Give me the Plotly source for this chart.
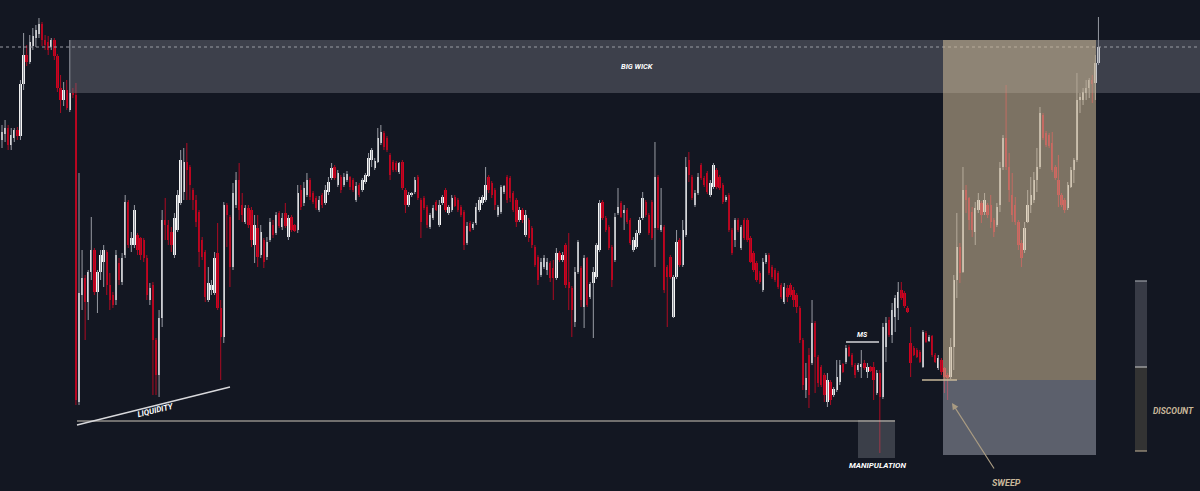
import plotly.graph_objects as go

# Candles (0 = top edge, 491 = bottom edge).
# price = 491 - level
open_lv = [
    140,134,128,145,138,130,136,84,55,62, 46,38,34,24,40,42,47,40,56,88,
    100,90,110,93,95,402,295,278,302,272, 250,292,272,262,252,285,295,300,263,282,
    255,202,245,245,235,238,240,258,300,285, 340,375,318,220,225,232,255,230,203,192,
    162,167,190,200,212,240,252,300,290,293, 253,308,337,205,217,267,205,180,205,222,
    208,210,245,228,255,240,257,240,225,233, 213,227,213,237,217,225,230,190,203,195,
    180,193,198,210,195,203,192,178,167,185, 177,185,180,177,180,200,185,190,182,176,
    160,168,162,143,133,138,155,162,163,172, 162,190,205,195,192,177,200,198,207,227,
    218,202,225,203,190,213,210,197,200,207, 212,243,223,228,223,210,203,200,177,183,
    190,215,212,192,177,178,193,200,220,210, 235,220,228,247,257,275,267,270,263,268,
    278,253,260,245,282,288,322,272,268,307, 258,297,283,277,250,202,218,227,247,260,
    213,203,213,210,220,250,247,233,218,202, 215,202,228,177,230,227,267,257,317,277,
    240,265,235,160,177,205,193,165,178,173, 195,187,170,177,185,200,195,230,240,220,
    248,220,220,238,253,263,273,290,262,255, 267,270,273,285,302,288,285,290,295,308,
    340,390,355,363,323,357,367,375,402,382, 395,390,382,364,362,347,355,365,370,367,
    363,372,367,367,393,373,397,347,320,335, 317,308,290,293,308,343,348,350,352,367,
    333,341,336,355,368,360,368,375,377,347, 280,247,272,190,198,212,232,210,203,212,
    205,205,220,225,205,167,138,167,195,205, 222,243,250,222,205,200,180,167,115,133,
    135,143,167,180,195,200,208,187,170,160, 100,100,93,88,80,83,63,
]
high_lv = [
    125,120,125,128,128,127,80,33,45,35, 28,25,18,22,35,36,38,38,54,75,
    82,80,40,88,83,173,250,275,270,217, 248,270,250,245,250,273,292,250,258,253,
    195,200,232,205,233,237,238,255,283,282, 338,310,210,198,220,227,213,190,150,148,
    143,165,188,195,210,237,250,267,280,252, 223,300,202,203,215,183,172,163,193,205,
    205,207,215,215,225,238,237,218,220,212, 211,213,203,215,215,224,185,185,182,173,
    178,191,196,196,193,185,177,163,165,170, 175,173,171,176,178,182,183,178,173,153,
    148,158,128,125,131,136,153,160,161,162, 160,188,192,192,177,175,198,196,205,213,
    205,200,200,195,188,205,195,195,198,205, 210,222,221,222,203,197,195,167,175,181,
    188,205,185,185,175,176,191,198,207,208, 210,218,226,245,255,258,255,258,261,260,
    248,251,252,243,233,286,267,240,266,255, 257,282,267,243,200,200,216,225,245,213,
    188,201,205,208,218,237,230,217,192,200, 213,200,142,175,188,225,265,255,275,230,
    238,220,157,152,175,190,173,163,176,171, 180,163,168,175,183,195,193,228,218,218,
    225,218,218,236,251,261,271,258,253,253, 265,268,271,283,283,285,283,287,293,306,
    338,363,348,300,321,355,365,373,373,380, 387,360,360,363,345,345,353,363,363,350,
    360,363,366,362,370,370,323,317,317,303, 295,282,282,291,306,327,346,348,350,330,
    331,335,335,353,355,358,367,373,338,275, 213,243,167,185,197,207,202,193,201,193,
    203,195,218,203,162,135,85,153,173,197, 220,240,222,190,177,172,148,107,113,131,
    133,132,165,155,193,198,182,167,158,73, 93,88,80,78,75,55,17,
]
low_lv = [
    148,142,150,150,142,140,140,90,66,64, 50,47,38,46,50,55,50,60,92,113,
    106,110,112,98,405,405,310,340,320,280, 295,313,280,287,295,310,308,305,285,285,
    258,248,252,248,255,260,262,300,305,395, 395,397,327,240,245,252,258,232,205,200,
    200,200,210,227,267,260,302,302,295,295, 310,380,343,247,287,270,208,220,222,224,
    228,247,263,267,258,268,260,242,238,235, 228,230,228,240,232,232,233,210,206,197,
    200,204,210,212,208,205,195,180,180,187, 193,187,182,190,192,202,197,192,184,177,
    167,170,163,145,150,152,180,172,172,174, 190,213,207,197,194,200,238,210,228,229,
    220,211,227,205,212,215,212,207,212,217, 250,245,232,230,225,212,205,202,193,198,
    210,217,214,194,203,202,212,227,222,223, 237,242,248,267,285,277,269,275,282,300,
    280,262,262,288,310,337,327,274,307,328, 307,299,338,279,252,220,232,250,287,262,
    215,218,230,224,245,252,249,235,220,217, 235,240,267,230,232,293,327,279,318,279,
    267,267,237,182,200,207,195,180,187,194, 197,189,189,190,204,202,232,255,247,232,
    250,240,242,263,272,282,284,292,264,275, 279,282,289,299,304,302,297,307,313,343,
    390,398,408,365,393,387,387,402,407,405, 397,392,385,373,364,357,367,378,372,378,
    370,378,372,400,395,453,399,362,337,343, 332,320,300,308,313,377,356,358,363,368,
    343,342,357,363,370,375,393,400,379,370, 298,283,273,213,230,237,245,213,223,215,
    218,228,237,227,212,170,170,202,222,225, 250,267,253,223,213,203,192,169,140,147,
    148,172,180,207,207,213,210,188,183,162, 113,105,100,98,103,100,65,
]
close_lv = [
    132,128,145,135,130,136,84,55,62,42, 36,30,24,40,45,50,40,56,88,100,
    90,108,93,95,400,293,278,302,272,250, 292,272,255,250,285,300,305,255,280,258,
    202,245,238,210,250,255,258,295,288,340, 375,318,220,225,240,245,218,195,160,162,
    170,185,200,222,252,257,297,283,285,258, 308,337,205,215,267,193,180,210,215,208,
    225,240,225,257,232,262,242,222,235,215, 226,218,226,218,230,231,193,207,188,180,
    197,202,208,200,205,190,182,168,178,173, 190,177,174,187,190,186,195,180,175,158,
    150,161,138,132,147,150,175,170,170,163, 188,205,195,193,180,198,222,208,225,215,
    208,210,205,197,210,207,198,206,210,215, 245,226,231,224,207,200,197,185,190,195,
    205,207,187,186,200,198,210,222,210,220, 215,238,245,265,280,262,258,262,278,278,
    253,260,255,285,288,310,272,242,300,258, 305,284,272,245,203,218,230,248,280,217,
    207,217,210,222,243,240,233,220,198,215, 233,238,177,228,225,290,277,277,277,242,
    265,230,167,175,198,193,177,178,185,192, 183,165,187,188,202,197,230,253,220,230,
    227,238,240,262,270,280,282,262,255,273, 277,280,287,297,287,297,295,300,307,340,
    385,378,395,323,357,383,385,395,380,400, 389,377,365,372,348,356,365,375,365,364,
    368,367,371,380,373,397,327,323,335,310, 298,292,298,306,312,363,355,357,362,332,
    342,337,355,362,358,372,377,378,347,280, 247,273,190,200,220,230,208,200,215,200,
    215,222,232,207,168,138,167,190,215,222, 245,258,228,205,195,180,167,113,138,145,
    146,170,178,195,205,210,185,170,160,100, 97,92,88,80,84,63,47,
]

# Annotation levels (same screen-level units)
BIG_WICK_BAR = 22          # candle whose upper wick forms the "BIG WICK" zone
SWEEP_LV = 380
DISCOUNT_BOTTOM_LV = 455
LIQ_LINE_LV = 421
MS_LV = 342
MANIP_TOP_LV, MANIP_BOTTOM_LV = 420, 458

TOP = 491
opens = [TOP - v for v in open_lv]
highs = [TOP - v for v in high_lv]
lows = [TOP - v for v in low_lv]
closes = [TOP - v for v in close_lv]
n = len(opens)
idx = list(range(n))

PITCH = 3.08                    # px per candle
X0 = -2 / PITCH
X1 = X0 + 1200 / PITCH
def xi(px):                     # pixel column -> candle axis
    return (px - 2) / PITCH
def pr(lv):                     # screen level -> price
    return TOP - lv

bull = [c >= o for o, c in zip(opens, closes)]
base = [min(o, c) for o, c in zip(opens, closes)]
height = [max(abs(c - o), 1.0) for o, c in zip(opens, closes)]
body_col = ["#f6f6f6" if b else "#d3001f" for b in bull]

def wicks(side):
    xs, ys = [], []
    for i in range(n):
        if bull[i] == side:
            xs += [i, i, None]
            ys += [min(lows[i], opens[i], closes[i]), max(highs[i], opens[i], closes[i]), None]
    return xs, ys

fig = go.Figure()
wx, wy = wicks(True)
fig.add_trace(go.Scatter(x=wx, y=wy, mode="lines", line=dict(color="#8d9099", width=1.1),
                         hoverinfo="skip"))
wx, wy = wicks(False)
fig.add_trace(go.Scatter(x=wx, y=wy, mode="lines", line=dict(color="#a00b22", width=1.1),
                         hoverinfo="skip"))
fig.add_trace(go.Bar(x=idx, y=height, base=base, width=0.76,
                     marker=dict(color=body_col, line=dict(width=0))))

shapes = []
bw_top = highs[BIG_WICK_BAR]
bw_bot = max(opens[BIG_WICK_BAR], closes[BIG_WICK_BAR])
# BIG WICK zone
shapes.append(dict(type="rect", xref="x", yref="y", x0=BIG_WICK_BAR, x1=X1 + 5,
                   y0=bw_bot, y1=bw_top, fillcolor="rgba(125,128,138,0.40)", line=dict(width=0)))
# last price dotted line
shapes.append(dict(type="line", xref="paper", yref="y", x0=0, x1=1, y0=closes[-1], y1=closes[-1],
                   line=dict(color="#9a9ca4", width=1, dash="dot")))
# premium (tan) zone
zx0, zx1 = xi(943), xi(1096)
shapes.append(dict(type="rect", xref="x", yref="y", x0=zx0, x1=zx1, y0=pr(SWEEP_LV), y1=bw_top,
                   fillcolor="rgba(206,186,150,0.56)", line=dict(width=0)))
# discount (grey) zone
shapes.append(dict(type="rect", xref="x", yref="y", x0=zx0, x1=zx1, y0=pr(DISCOUNT_BOTTOM_LV),
                   y1=pr(SWEEP_LV), fillcolor="rgba(165,169,182,0.50)", line=dict(width=0)))
# manipulation box
shapes.append(dict(type="rect", xref="x", yref="y", x0=xi(858), x1=xi(895), y0=pr(MANIP_BOTTOM_LV),
                   y1=pr(MANIP_TOP_LV), fillcolor="rgba(125,128,138,0.38)", line=dict(width=0)))
# equal lows liquidity line
shapes.append(dict(type="line", xref="x", yref="y", x0=xi(77), x1=xi(895), y0=pr(LIQ_LINE_LV),
                   y1=pr(LIQ_LINE_LV), line=dict(color="#cfc8ba", width=1)))
# rising liquidity trendline
shapes.append(dict(type="line", xref="x", yref="y", x0=xi(77), x1=xi(230), y0=pr(425), y1=pr(387),
                   line=dict(color="#d9d9dc", width=1.3)))
# MS line
shapes.append(dict(type="line", xref="x", yref="y", x0=xi(846), x1=xi(879), y0=pr(MS_LV), y1=pr(MS_LV),
                   line=dict(color="#d4d4d8", width=1.3)))
# sweep level
shapes.append(dict(type="line", xref="x", yref="y", x0=xi(922), x1=xi(957), y0=pr(SWEEP_LV),
                   y1=pr(SWEEP_LV), line=dict(color="#c9b89a", width=1.3)))
# right premium/discount gauge
gx0, gx1 = 1135 / 1200, 1147 / 1200
shapes.append(dict(type="rect", xref="paper", yref="y", x0=gx0, x1=gx1, y0=pr(367), y1=pr(281),
                   fillcolor="#383b46", line=dict(width=0)))
shapes.append(dict(type="rect", xref="paper", yref="y", x0=gx0, x1=gx1, y0=pr(451), y1=pr(367),
                   fillcolor="#333333", line=dict(width=0)))
for lv, col in [(281, "#9c9ea6"), (367, "#b5b5b5"), (451, "#a89c86")]:
    shapes.append(dict(type="line", xref="paper", yref="y", x0=gx0, x1=gx1, y0=pr(lv), y1=pr(lv),
                       line=dict(color=col, width=1.2)))

FONT = "Roboto"
ann = []
def label(x, y, text, size, color="#ffffff", angle=0, xref="x"):
    ann.append(dict(x=x, y=y, xref=xref, yref="y", text=f"<b><i>{text}</i></b>", showarrow=False,
                    xanchor="center", yanchor="middle", textangle=angle,
                    font=dict(family=FONT, size=size, color=color)))

label(xi(637), pr(66), "BIG WICK", 7.5)
label(xi(155), pr(410), "LIQUIDITY", 8, angle=-14)
label(xi(862), pr(335), "MS", 7)
label(xi(877), pr(465), "MANIPULATION", 8)
label(1173 / 1200, pr(411), "DISCOUNT", 8.5, color="#c9b89a", xref="paper")
label(xi(1006), pr(483), "SWEEP", 9, color="#c9b89a")
ann.append(dict(x=xi(952), y=pr(403), xref="x", yref="y", text="", showarrow=True,
                ax=43, ay=67, axref="pixel", ayref="pixel", arrowhead=2, arrowsize=1.1,
                arrowwidth=1.2, arrowcolor="#a99b82"))

fig.update_layout(
    width=1200, height=491, margin=dict(l=0, r=0, t=0, b=0),
    paper_bgcolor="#131722", plot_bgcolor="#131722",
    showlegend=False, bargap=0,
    xaxis=dict(range=[X0, X1], visible=False, showgrid=False, zeroline=False),
    yaxis=dict(range=[0, TOP], visible=False, showgrid=False, zeroline=False),
    shapes=shapes, annotations=ann,
)
fig.write_html("out.html", config={"displayModeBar": False})
